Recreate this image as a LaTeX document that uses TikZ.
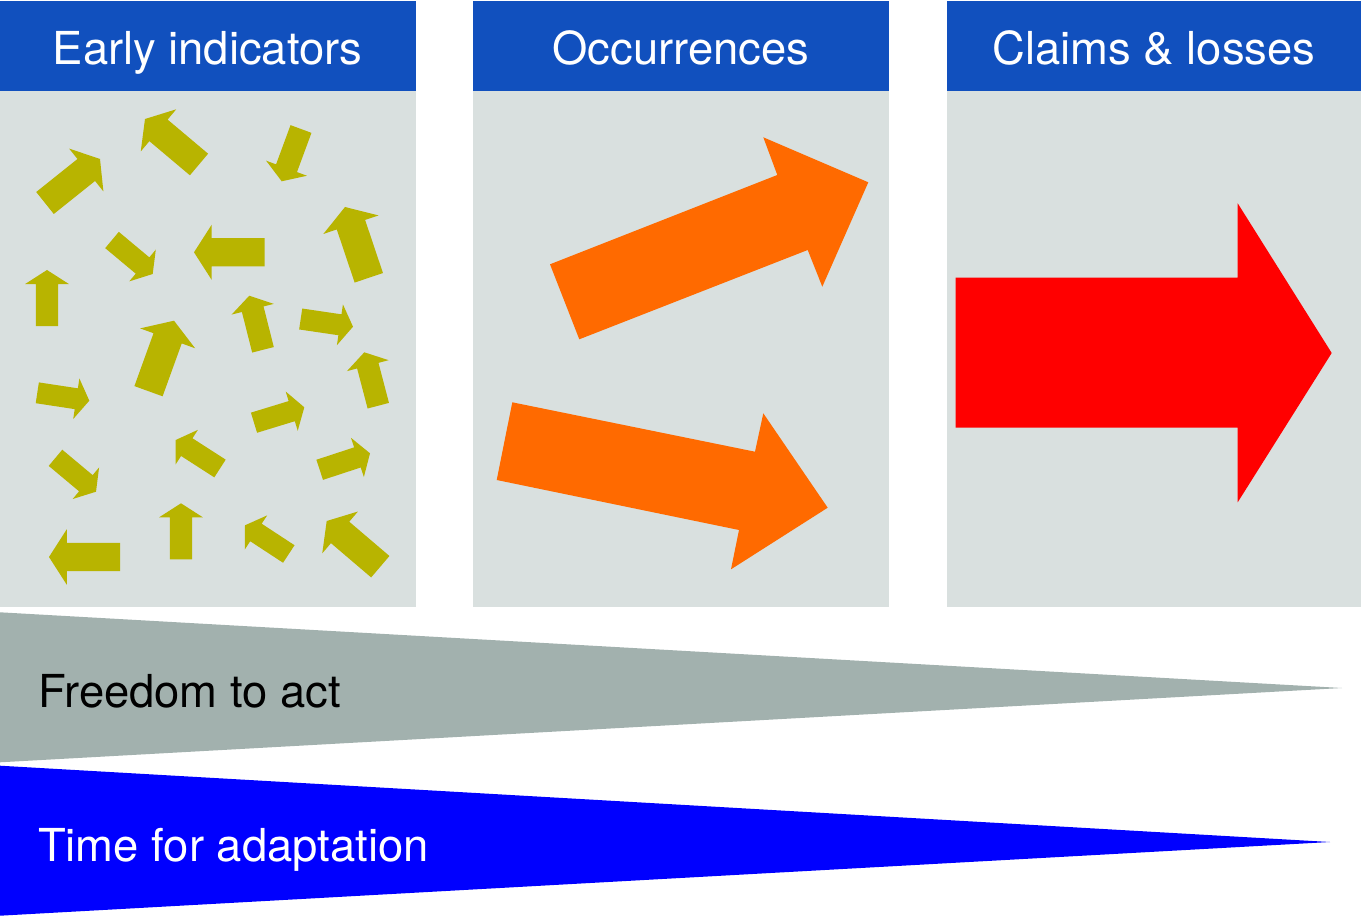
\documentclass[tikz,border=0pt]{standalone}
\usepackage{fontspec}
\setmainfont{TeX Gyre Heros}
\usetikzlibrary{calc}
\definecolor{hdrblue}{HTML}{1150BE}
\definecolor{panelgrey}{HTML}{D9E0DF}
\definecolor{olivec}{HTML}{B8B400}
\definecolor{orangec}{HTML}{FF6A00}
\definecolor{redc}{HTML}{FF0000}
\definecolor{wedgegrey}{HTML}{A2B1AE}
\definecolor{wedgeblue}{HTML}{0000FF}
\newcommand\smallarrow[2]{%
  \coordinate (st) at (#1); \coordinate (sp) at (#2);
  \coordinate (sm) at ($(st)!0.75!(sp)$);
  \fill[olivec] ($(st)!0.2!90:(sp)$) -- ($(sm)!0.8!90:(sp)$) -- ($(sm)!1.56!90:(sp)$) -- (sp)
    -- ($(sm)!1.56!-90:(sp)$) -- ($(sm)!0.8!-90:(sp)$) -- ($(st)!0.2!-90:(sp)$) -- cycle;}
\tikzset{
  hdrtext/.style={anchor=base, text=white, inner sep=0pt, font=\fontsize{64.6}{70}\selectfont},
  lbltext/.style={anchor=base west, inner sep=0pt, font=\fontsize{64.6}{70}\selectfont},
}
\begin{document}
\begin{tikzpicture}[x=0.05cm, y=-0.05cm]
\useasboundingbox (0,0) rectangle (1361,917);
% headers
\fill[hdrblue] (0,1) rectangle (415.5,91.5);
\fill[hdrblue] (473,1) rectangle (889,91.5);
\fill[hdrblue] (947,1) rectangle (1361,91.5);
% panels
\fill[panelgrey] (0,91.5) rectangle (415.5,606.5);
\fill[panelgrey] (473,91.5) rectangle (889,606.5);
\fill[panelgrey] (947,91.5) rectangle (1361,606.5);
\node[hdrtext] (h1) at (207.75,65) {Early indicators};
\node[hdrtext] (h2) at (681,65) {Occurrences};
\node[hdrtext] (h3) at (1154,65) {Claims \& losses};
% small arrows
\smallarrow{45,203}{100,159}
\smallarrow{199,164.5}{145,119}
\smallarrow{301,129}{281.7,181.3}
\smallarrow{368.8,277.8}{345,207}
\smallarrow{264.7,252.3}{194,252.3}
\smallarrow{112,240}{152.7,274}
\smallarrow{47,326}{47,270}
\smallarrow{148.5,391.2}{174,320.7}
\smallarrow{37.3,392.8}{89.3,400.7}
\smallarrow{263,349.8}{249.3,295.7}
\smallarrow{300.7,319}{353,326.7}
\smallarrow{378.3,405.7}{364.3,352.3}
\smallarrow{254,422.7}{304.3,407.3}
\smallarrow{55.5,457.8}{96,491.7}
\smallarrow{120,557}{49,557}
\smallarrow{181,559.3}{181,503.3}
\smallarrow{220,468.5}{175.7,440}
\smallarrow{319.7,469.8}{370,453.3}
\smallarrow{288.8,554}{245,525.3}
\smallarrow{380.3,566.7}{326.7,521}
% orange arrows
\fill[orangec] (550,264.3) -- (777.3,175) -- (763.3,137.3) -- (868.3,182.3) -- (822.3,286.7) -- (807.7,250) -- (579.3,339.3) -- cycle;
\fill[orangec] (512.3,402.3) -- (755,451.7) -- (763.3,413.3) -- (827.7,507.7) -- (731,569.3) -- (739,530) -- (496.7,480) -- cycle;
% red arrow
\fill[redc] (955.7,277.7) -- (1237.7,277.7) -- (1237.7,203.3) -- (1331.7,353) -- (1237.7,502.3) -- (1237.7,427.7) -- (955.7,427.7) -- cycle;
% wedges
\fill[wedgegrey] (0,612.3) -- (1342,688) -- (0,762.3) -- cycle;
\fill[wedgeblue] (0,765.7) -- (1330,842) -- (0,915.7) -- cycle;
\node[lbltext] (l1) at (38,707.3) {Freedom to act};
\node[lbltext, text=white] (l2) at (38,861.7) {Time for adaptation};
\end{tikzpicture}
\end{document}
